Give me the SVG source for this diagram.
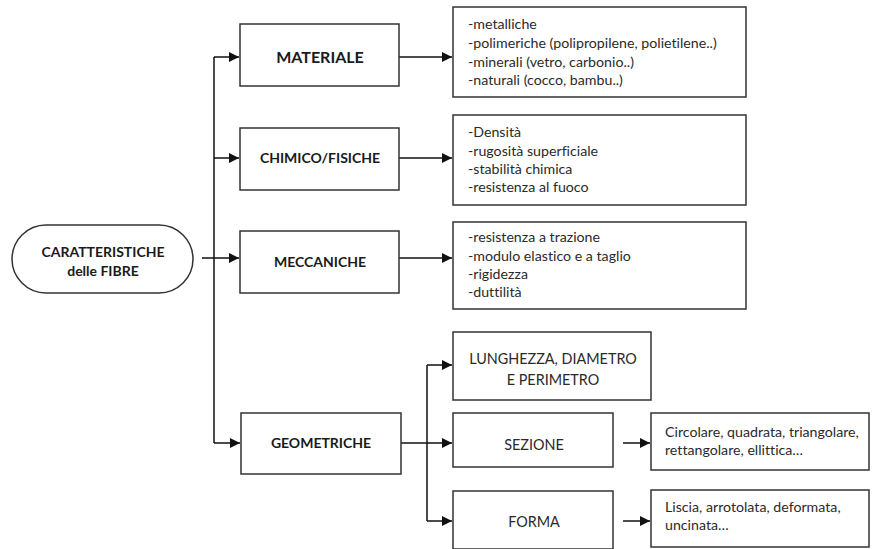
<svg xmlns="http://www.w3.org/2000/svg" width="872" height="549" viewBox="0 0 872 549">
  <defs>
    <marker id="arrow" viewBox="0 0 10 10" refX="10" refY="5" markerWidth="10" markerHeight="10" markerUnits="userSpaceOnUse" orient="auto">
      <path d="M0,0 L10,5 L0,10 z" fill="#111"/>
    </marker>
    <style>
      text { font-family: Lato, "Liberation Sans", sans-serif; font-variant-ligatures: none; }
      .box { fill: #fff; stroke: #333; stroke-width: 1.5; }
      .head { font-weight: bold; font-size: 14px; fill: #1a1a1a; text-anchor: middle; }
      .big { font-size: 16px; }
      .list { font-size: 14.2px; fill: #2a2a2a; }
      .plain { font-size: 14.4px; fill: #2a2a2a; text-anchor: middle; }
      .wire { fill: none; stroke: #111; stroke-width: 1.5; }
      .arr { fill: none; stroke: #111; stroke-width: 1.5; marker-end: url(#arrow); }
    </style>
  </defs>
  <rect width="872" height="549" fill="#fff"/>

  <!-- connectors -->
  <g id="connectors">
    <path class="wire" d="M214,57 V443"/>
    <path class="arr" d="M214,57 H239"/>
    <path class="arr" d="M214,158 H239"/>
    <path class="arr" d="M202,258 H239"/>
    <path class="arr" d="M214,443 H240"/>
    <path class="arr" d="M399,57 H452"/>
    <path class="arr" d="M399,158 H452"/>
    <path class="arr" d="M399,258 H452"/>
    <path class="wire" d="M401,443 H427"/>
    <path class="wire" d="M427,365 V521"/>
    <path class="arr" d="M427,365 H452"/>
    <path class="arr" d="M427,443 H452"/>
    <path class="arr" d="M427,521 H452"/>
    <path class="arr" d="M623,443 H650"/>
    <path class="arr" d="M623,521 H650"/>
  </g>

  <!-- root -->
  <g id="root">
    <rect class="box" x="12" y="225" width="181" height="68" rx="34"/>
    <text class="head" x="103" y="257">CARATTERISTICHE</text>
    <text class="head" x="103" y="276">delle FIBRE</text>
  </g>

  <!-- categories -->
  <g id="materiale">
    <rect class="box" x="240" y="24" width="159" height="62"/>
    <text class="head big" x="320" y="63">MATERIALE</text>
  </g>
  <g id="chimico-fisiche">
    <rect class="box" x="240" y="128" width="159" height="62"/>
    <text class="head" x="320" y="163">CHIMICO/FISICHE</text>
  </g>
  <g id="meccaniche">
    <rect class="box" x="240" y="231" width="159" height="62"/>
    <text class="head" x="320" y="267">MECCANICHE</text>
  </g>
  <g id="geometriche">
    <rect class="box" x="241" y="413" width="160" height="61"/>
    <text class="head" x="321" y="448">GEOMETRICHE</text>
  </g>

  <!-- detail lists -->
  <g id="materiale-list">
    <rect class="box" x="453" y="7" width="293" height="90"/>
    <text class="list" x="468" y="29">-metalliche</text>
    <text class="list" x="468" y="48">-polimeriche (polipropilene, polietilene..)</text>
    <text class="list" x="468" y="67">-minerali (vetro, carbonio..)</text>
    <text class="list" x="468" y="85">-naturali (cocco, bambu..)</text>
  </g>
  <g id="chimico-list">
    <rect class="box" x="453" y="115" width="293" height="90"/>
    <text class="list" x="468" y="137">-Densità</text>
    <text class="list" x="468" y="156">-rugosità superficiale</text>
    <text class="list" x="468" y="174">-stabilità chimica</text>
    <text class="list" x="468" y="192">-resistenza al fuoco</text>
  </g>
  <g id="meccaniche-list">
    <rect class="box" x="453" y="222" width="293" height="87"/>
    <text class="list" x="468" y="242">-resistenza a trazione</text>
    <text class="list" x="468" y="261">-modulo elastico e a taglio</text>
    <text class="list" x="468" y="279">-rigidezza</text>
    <text class="list" x="468" y="297">-duttilità</text>
  </g>

  <!-- geometry branches -->
  <g id="lunghezza">
    <rect class="box" x="453" y="332" width="198" height="68"/>
    <text class="plain" x="553" y="364">LUNGHEZZA, DIAMETRO</text>
    <text class="plain" x="553" y="385">E PERIMETRO</text>
  </g>
  <g id="sezione">
    <rect class="box" x="453" y="413" width="160" height="54"/>
    <text class="plain" x="534" y="450">SEZIONE</text>
  </g>
  <g id="forma">
    <rect class="box" x="453" y="491" width="160" height="58"/>
    <text class="plain" x="534" y="527">FORMA</text>
  </g>
  <g id="sezione-list">
    <rect class="box" x="651" y="413" width="218" height="57"/>
    <text class="list" x="665" y="437">Circolare, quadrata, triangolare,</text>
    <text class="list" x="665" y="455">rettangolare, ellittica…</text>
  </g>
  <g id="forma-list">
    <rect class="box" x="651" y="490" width="218" height="57"/>
    <text class="list" x="665" y="512">Liscia, arrotolata, deformata,</text>
    <text class="list" x="665" y="530">uncinata…</text>
  </g>
</svg>
